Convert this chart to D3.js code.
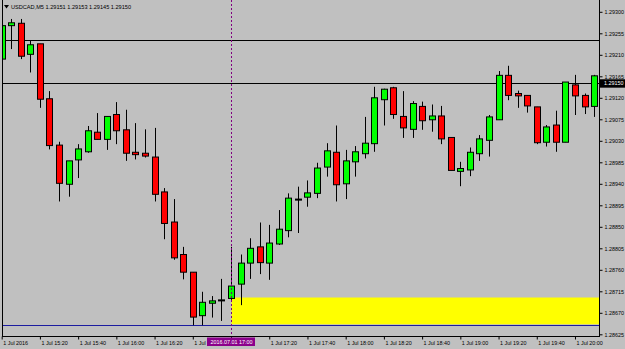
<!DOCTYPE html>
<html><head><meta charset="utf-8">
<script src="https://cdn.jsdelivr.net/npm/d3@7"></script>
<style>html,body{margin:0;padding:0;background:#c0c0c0;overflow:hidden}svg{display:block}</style>
</head><body>
<script>
const times = ["15:00","15:05","15:10","15:15","15:20","15:25","15:30","15:35","15:40","15:45",
"15:50","15:55","16:00","16:05","16:10","16:15","16:20","16:25","16:30","16:35",
"16:40","16:45","16:50","16:55","17:00","17:05","17:10","17:15","17:20","17:25",
"17:30","17:35","17:40","17:45","17:50","17:55","18:00","18:05","18:10","18:15",
"18:20","18:25","18:30","18:35","18:40","18:45","18:50","18:55","19:00","19:05",
"19:10","19:15","19:20","19:25","19:30","19:35","19:40","19:45","19:50","19:55",
"20:00","20:05","20:10"];
const opens = [1.29201,1.29271,1.29276,1.29211,1.29233,1.29118,1.29021,1.28939,1.28990,1.29007,
1.29048,1.29033,1.29085,1.29053,1.29006,1.29004,1.28996,1.28923,1.28860,1.28792,
1.28755,1.28664,1.28690,1.28697,1.28700,1.28730,1.28774,1.28808,1.28774,1.28814,
1.28842,1.28908,1.28912,1.28920,1.28975,1.29006,1.28940,1.28986,1.29003,1.29024,
1.29116,1.29141,1.29081,1.29054,1.29102,1.29074,1.29082,1.29037,1.28966,1.28969,
1.29003,1.29031,1.29074,1.29167,1.29129,1.29125,1.29101,1.29027,1.29063,1.29027,
1.29147,1.29125,1.29102];
const highs = [1.29274,1.29285,1.29285,1.29239,1.29233,1.29134,1.29028,1.28988,1.29023,1.29061,
1.29088,1.29081,1.29111,1.29095,1.29067,1.29054,1.29057,1.28931,1.28908,1.28808,
1.28755,1.28714,1.28705,1.28741,1.28808,1.28792,1.28826,1.28859,1.28854,1.28885,
1.28920,1.28934,1.28947,1.28984,1.29025,1.29062,1.29011,1.29019,1.29080,1.29143,
1.29139,1.29143,1.29134,1.29113,1.29112,1.29106,1.29103,1.29037,1.28986,1.29016,
1.29042,1.29084,1.29176,1.29187,1.29135,1.29125,1.29101,1.29063,1.29093,1.29153,
1.29168,1.29129,1.29168];
const lows = [1.29193,1.29222,1.29201,1.29173,1.29099,1.29012,1.28903,1.28913,1.28952,1.29005,
1.29033,1.29011,1.29023,1.28988,1.28991,1.28995,1.28903,1.28824,1.28781,1.28740,
1.28644,1.28644,1.28660,1.28653,1.28697,1.28686,1.28741,1.28751,1.28739,1.28812,
1.28828,1.28837,1.28892,1.28910,1.28955,1.28903,1.28908,1.28955,1.28993,1.29007,
1.29062,1.29076,1.29036,1.29036,1.29053,1.29049,1.29023,1.28968,1.28935,1.28956,
1.28988,1.28997,1.29074,1.29115,1.29099,1.29089,1.29023,1.29018,1.29007,1.29027,
1.29084,1.29086,1.29080];
const closes = [1.29271,1.29277,1.29207,1.29231,1.29117,1.29020,1.28941,1.28988,1.29013,1.29051,
1.29033,1.29081,1.29051,1.29004,1.29001,1.28998,1.28918,1.28857,1.28785,1.28755,
1.28661,1.28692,1.28695,1.28697,1.28726,1.28774,1.28805,1.28775,1.28816,1.28845,
1.28910,1.28908,1.28921,1.28973,1.29009,1.28938,1.28988,1.29007,1.29025,1.29120,
1.29138,1.29085,1.29057,1.29108,1.29072,1.29082,1.29034,1.28968,1.28972,1.29006,
1.29034,1.29080,1.29167,1.29125,1.29124,1.29103,1.29026,1.29059,1.29027,1.29153,
1.29124,1.29101,1.29166];

const yTickLabels = ["1.29300","1.29255","1.29210","1.29165","1.29120","1.29075","1.29030","1.28985",
"1.28940","1.28895","1.28850","1.28805","1.28760","1.28715","1.28670","1.28625"];
const xTickTimes = ["15:00","15:20","15:40","16:00","16:20","16:40","17:00","17:20","17:40","18:00",
"18:20","18:40","19:00","19:20","19:40","20:00"];
// the 17:00 label is hidden under the cursor's date tag in the reference
const xTickLabels = ["1 Jul 2016","1 Jul 15:20","1 Jul 15:40","1 Jul 16:00","1 Jul 16:20","1 Jul 16:40",
"","1 Jul 17:20","1 Jul 17:40","1 Jul 18:00","1 Jul 18:20","1 Jul 18:40","1 Jul 19:00",
"1 Jul 19:20","1 Jul 19:40","1 Jul 20:00"];

const titleText = "USDCAD,M5  1.29151 1.29153 1.29145 1.29150";
const hLines = [1.29242];
const priceLevel = 1.29150;
const priceLabel = "1.29150";
const blueLevel = 1.28644;
const zoneTop = 1.28702, zoneBottom = 1.28646;
const markerTime = "17:00";
const markerLabel = "2016.07.01 17:00";

(function draw() {
const W = 625, H = 349;
const pL = 2, pR = 599, pT = 0, pB = 336;
const FONT = "'Liberation Sans', Arial, sans-serif";
const FS = 5.4;

const svg = d3.select("body").append("svg").attr("width", W).attr("height", H)
  .style("font-family", FONT);
svg.append("rect").attr("width", W).attr("height", H).attr("fill", "#c0c0c0");

const x = d3.scalePoint().domain(times).range([1.7, 594.1]);
const y = d3.scaleLinear().domain([1.28625, 1.29300]).range([334.3, 11.8]);

svg.append("clipPath").attr("id", "plot")
  .append("rect").attr("x", pL).attr("y", pT).attr("width", pR - pL).attr("height", pB - pT);
const plot = svg.append("g").attr("clip-path", "url(#plot)");

const mx = Math.round(x(markerTime)) + 0.5;
plot.append("rect").attr("x", mx).attr("y", y(zoneTop))
  .attr("width", pR - mx).attr("height", y(zoneBottom) - y(zoneTop)).attr("fill", "#ffff00");

hLines.concat([priceLevel]).forEach(v => {
  const yy = Math.round(y(v)) + 0.5;
  plot.append("line").attr("x1", pL).attr("x2", pR).attr("y1", yy).attr("y2", yy)
    .attr("stroke", "#000").attr("stroke-width", 1);
});
{
  const yy = Math.round(y(blueLevel)) + 0.5;
  plot.append("line").attr("x1", pL).attr("x2", pR).attr("y1", yy).attr("y2", yy)
    .attr("stroke", "#1c1ca0").attr("stroke-width", 1);
}
svg.append("line").attr("x1", mx).attr("x2", mx).attr("y1", pT).attr("y2", 340)
  .attr("stroke", "#800080").attr("stroke-width", 1).attr("stroke-dasharray", "2,2");

const candles = plot.selectAll("g.c").data(times).enter().append("g").attr("class", "c");
candles.each(function(t, i) {
  const g = d3.select(this);
  const cx = Math.round(x(t)) + 0.5;
  g.append("line").attr("x1", cx).attr("x2", cx)
    .attr("y1", y(highs[i])).attr("y2", y(lows[i])).attr("stroke", "#000").attr("stroke-width", 1);
  const o = opens[i], c = closes[i];
  const y1 = y(Math.max(o, c)), y2 = y(Math.min(o, c));
  const h = Math.max(1, y2 - y1);
  const fill = c > o ? "#00ff00" : (c < o ? "#ff0000" : "#000");
  g.append("rect").attr("x", cx - 3).attr("y", y1).attr("width", 6).attr("height", h)
    .attr("fill", fill).attr("stroke", "#000").attr("stroke-width", 1);
});

svg.append("line").attr("x1", pL + 0.5).attr("x2", pL + 0.5).attr("y1", pT).attr("y2", pB)
  .attr("stroke", "#000");
svg.append("line").attr("x1", pL).attr("x2", pR).attr("y1", pB + 0.5).attr("y2", pB + 0.5)
  .attr("stroke", "#000");

const yAxis = d3.axisRight(y).tickValues(yTickLabels.map(Number)).tickSize(3).tickPadding(2)
  .tickFormat((d, i) => yTickLabels[i]);
const ya = svg.append("g").attr("transform", `translate(${pR + 0.5},0)`).call(yAxis);
ya.select(".domain").attr("d", `M0,${pT}V${pB + 1}`).attr("stroke", "#000");
ya.selectAll("text").attr("font-size", FS).attr("font-family", FONT).attr("fill", "#000");
ya.selectAll(".tick line").attr("stroke", "#000");

const xAxis = d3.axisBottom(x).tickValues(xTickTimes).tickSize(3).tickPadding(1.5)
  .tickFormat((d, i) => xTickLabels[i]);
const xa = svg.append("g").attr("transform", `translate(0,${pB + 0.5})`).call(xAxis);
xa.select(".domain").remove();
xa.selectAll(".tick line").attr("stroke", "#000");
xa.selectAll("text").attr("font-size", FS).attr("font-family", FONT).attr("fill", "#000")
  .attr("text-anchor", "start").attr("x", 1);

{
  const yy = y(priceLevel);
  svg.append("rect").attr("x", pR + 1).attr("y", yy - 4.2).attr("width", W - pR - 1).attr("height", 8.4)
    .attr("fill", "#000");
  svg.append("text").attr("x", pR + 5).attr("y", yy).attr("dy", "0.34em")
    .attr("font-size", FS).attr("fill", "#fff").text(priceLabel);
}

svg.append("rect").attr("x", 207).attr("y", 337.5).attr("width", 48).attr("height", 8.5).attr("fill", "#8b008b");
svg.append("text").attr("x", mx).attr("y", 341.8).attr("dy", "0.34em").attr("text-anchor", "middle")
  .attr("font-size", FS).attr("fill", "#fff").text(markerLabel);

svg.append("path").attr("d", "M4,5 L9,5 L6.5,8.5 Z").attr("fill", "#000");
svg.append("text").attr("x", 11).attr("y", 6.7).attr("dy", "0.34em")
  .attr("font-size", 5.6).attr("fill", "#000").text(titleText);
})();
</script>
</body></html>
